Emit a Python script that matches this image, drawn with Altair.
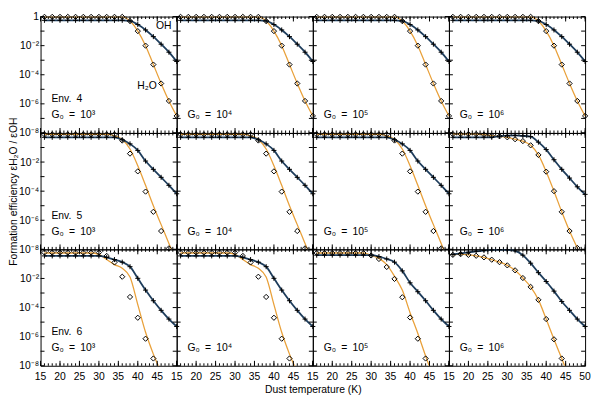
import altair as alt
import pandas as pd

# ---------------- data (log10 of formation efficiency) -------------
TEMPS = [16, 18, 20, 22, 24, 26, 28, 30, 32, 34, 36, 38, 40, 42, 44, 46, 48, 50]

ENV_LABELS = ["Env.\u20024", "Env.\u20025", "Env.\u20026"]
G0_LABELS = ["G\u2080\u2002=\u200210\u00b3", "G\u2080\u2002=\u200210\u2074",
             "G\u2080\u2002=\u200210\u2075", "G\u2080\u2002=\u200210\u2076"]

# Env. 4 (same for all G0)
E4_H2O = [-0.02, -0.02, -0.02, -0.02, -0.02, -0.02, -0.02, -0.02, -0.02, -0.02, -0.02,
          -0.31, -1.0, -2.0, -3.3, -4.6, -5.8, -6.83]
E4_OH = [-0.26, -0.26, -0.26, -0.26, -0.26, -0.26, -0.26, -0.26, -0.26, -0.26, -0.26,
         -0.3, -0.55, -0.92, -1.38, -1.9, -2.45, -3.09]

# Env. 5, G0 = 1e3 .. 1e5
E5_H2O_PTS = [-0.1, -0.1, -0.1, -0.1, -0.1, -0.1, -0.1, -0.1, -0.1, -0.1,
              -0.52, -1.42, -2.64, -4.03, -5.42, -6.74, -7.93, None]
E5_H2O_LINE = [-0.1, -0.1, -0.1, -0.1, -0.1, -0.1, -0.1, -0.1, -0.1, -0.2,
               -0.45, -1.1, -2.25, -3.6, -5.0, -6.3, -7.6, -8.9]
E5_OH = [-0.3, -0.3, -0.3, -0.3, -0.3, -0.3, -0.3, -0.3, -0.3, -0.3,
         -0.47, -0.75, -1.2, -1.93, -2.5, -3.05, -3.6, -4.18]
# Env. 5, G0 = 1e6
E5G6_H2O_PTS = [-0.08, -0.08, -0.08, -0.08, -0.12, -0.19, -0.23, -0.3, -0.43, -0.56,
                -0.85, -1.51, -2.66, -4.0, -5.42, -6.74, -7.9, None]
E5G6_H2O_LINE = [-0.08, -0.08, -0.08, -0.08, -0.12, -0.19, -0.23, -0.3, -0.43, -0.56,
                 -0.85, -1.51, -2.66, -4.0, -5.42, -6.74, -7.9, -9.0]
E5G6_OH = [-0.3, -0.3, -0.3, -0.3, -0.3, -0.3, -0.22, -0.18, -0.17, -0.2,
           -0.25, -0.63, -1.14, -1.84, -2.5, -3.1, -3.7, -4.22]

# Env. 6, G0 = 1e3 and 1e4
E6_H2O_PTS = [-0.22, -0.22, -0.22, -0.22, -0.22, -0.22, -0.22, -0.22, -0.45, -0.9,
              -1.88, -3.27, -4.7, -6.14, -7.5, None, None, None]
E6_H2O_LINE = [-0.25, -0.25, -0.25, -0.25, -0.25, -0.25, -0.25, -0.35, -0.7, -1.05,
               -1.3, -1.9, -3.8, -5.7, -7.2, -8.5, -10.0, -11.4]
E6_OH = [-0.45, -0.45, -0.45, -0.45, -0.45, -0.45, -0.45, -0.45, -0.55, -0.7,
         -0.88, -1.19, -1.99, -2.8, -3.53, -4.19, -4.79, -5.3]
# Env. 6, G0 = 1e5
E6G5_H2O_PTS = [-0.25, -0.25, -0.25, -0.25, -0.25, -0.25, -0.25, -0.42, -0.66, -1.21,
                -2.03, -3.29, -4.68, -6.14, -7.5, None, None, None]
E6G5_H2O_LINE = [-0.25, -0.25, -0.25, -0.25, -0.25, -0.25, -0.25, -0.4, -0.62, -1.05,
                 -1.85, -2.8, -4.35, -5.78, -7.33, -8.8, -10.3, -11.8]
E6G5_OH = [-0.4, -0.4, -0.4, -0.4, -0.4, -0.4, -0.4, -0.4, -0.49, -0.66,
           -0.88, -1.48, -2.3, -2.91, -3.53, -4.19, -4.79, -5.3]
# Env. 6, G0 = 1e6
E6G6_H2O_PTS = [-0.38, -0.33, -0.38, -0.44, -0.55, -0.71, -0.88, -1.1, -1.44, -1.97,
                -2.58, -3.47, -4.79, -6.18, -7.5, None, None, None]
E6G6_H2O_LINE = [-0.38, -0.33, -0.38, -0.44, -0.55, -0.71, -0.88, -1.1, -1.44, -1.97,
                 -2.58, -3.47, -4.79, -6.18, -7.5, -8.9, -10.5, -12.0]
E6G6_OH = [-0.35, -0.28, -0.2, -0.13, -0.08, -0.04, -0.02, -0.03, -0.1, -0.4,
           -0.95, -1.6, -2.21, -2.87, -3.58, -4.19, -4.79, -5.3]

PANELS = {
    (0, 0): (E4_H2O, E4_H2O, E4_OH),
    (0, 1): (E4_H2O, E4_H2O, E4_OH),
    (0, 2): (E4_H2O, E4_H2O, E4_OH),
    (0, 3): (E4_H2O, E4_H2O, E4_OH),
    (1, 0): (E5_H2O_LINE, E5_H2O_PTS, E5_OH),
    (1, 1): (E5_H2O_LINE, E5_H2O_PTS, E5_OH),
    (1, 2): (E5_H2O_LINE, E5_H2O_PTS, E5_OH),
    (1, 3): (E5G6_H2O_LINE, E5G6_H2O_PTS, E5G6_OH),
    (2, 0): (E6_H2O_LINE, E6_H2O_PTS, E6_OH),
    (2, 1): (E6_H2O_LINE, E6_H2O_PTS, E6_OH),
    (2, 2): (E6G5_H2O_LINE, E6G5_H2O_PTS, E6G5_OH),
    (2, 3): (E6G6_H2O_LINE, E6G6_H2O_PTS, E6G6_OH),
}

# axis tick positions / labels
X_MAJOR = [15, 20, 25, 30, 35, 40, 45, 50]
X_MINOR = list(range(15, 51))
Y_DECADES = [1e-8, 1e-7, 1e-6, 1e-5, 1e-4, 1e-3, 1e-2, 1e-1, 1]
Y_LABELED_ROW1 = [1e-8, 1e-6, 1e-4, 1e-2, 1]
Y_LABELED = [1e-8, 1e-6, 1e-4, 1e-2]

# ---------------- styling -------------
W, H = 138, 118
FONT = "Liberation Sans"
C_OH = "#1e3d5c"
C_H2O = "#e9a13b"
PLUS = "M-1,0L1,0M0,-1L0,1"
FS = 10.5

E = "round(log(datum.value)/LN10)"
Y_LAB = (f"{E} == 0 ? '1' : {E} == -2 ? '10\u207b\u00b2' : {E} == -4 ? '10\u207b\u2074' : "
         f"{E} == -6 ? '10\u207b\u2076' : {E} == -8 ? '10\u207b\u2078' : ''")

xs = alt.Scale(domain=[15, 50], nice=False, zero=False)
ys = alt.Scale(type="log", domain=[1e-8, 1], nice=False)

df_xmaj = pd.DataFrame({"v": X_MAJOR})
df_xmin = pd.DataFrame({"v": X_MINOR})
df_y = pd.DataFrame({"v": Y_DECADES})


def tick_layers():
    out = []
    for dfx, ln in ((df_xmaj, 5), (df_xmin, 2.5)):
        bx = alt.Chart(dfx).mark_rule(color="black", strokeWidth=1)
        out.append(bx.encode(x=alt.X("v:Q", scale=xs),
                             y=alt.value(H), y2=alt.value(H - ln)))
        out.append(bx.encode(x=alt.X("v:Q", scale=xs),
                             y=alt.value(0), y2=alt.value(ln)))
    by = alt.Chart(df_y).mark_rule(color="black", strokeWidth=1)
    out.append(by.encode(y=alt.Y("v:Q", scale=ys), x=alt.value(0), x2=alt.value(4)))
    out.append(by.encode(y=alt.Y("v:Q", scale=ys), x=alt.value(W), x2=alt.value(W - 4)))
    return out


def txt(s, x, y):
    return alt.Chart(pd.DataFrame({"t": [s]})).mark_text(
        align="left", baseline="middle", font=FONT, fontSize=FS, color="black").encode(
        text="t:N", x=alt.value(x), y=alt.value(y))


def make_panel(r, c):
    h2o_line, h2o_pts, oh = PANELS[(r, c)]
    df = pd.DataFrame({
        "T": TEMPS,
        "h2o_line": [10 ** v for v in h2o_line],
        "h2o_pts": [None if v is None else 10 ** v for v in h2o_pts],
        "oh": [10 ** v for v in oh],
    })

    x_kw = dict(labels=False, ticks=False, domain=False, grid=False)
    if r == 2 and c == 1:
        x_kw.update(title="Dust temperature (K)", titleX=W, titleAlign="center",
                    titleFontWeight="normal", titleFontSize=FS, titlePadding=19,
                    titleFont=FONT, titleColor="black")
    else:
        x_kw.update(title=None)

    if c == 0:
        y_kw = dict(values=(Y_LABELED_ROW1 if r == 0 else Y_LABELED), ticks=False, domain=False,
                    grid=False, labelFlush=False, labelOverlap=False, labelPadding=2,
                    labelExpr=Y_LAB, labelFontSize=FS, labelColor="black", labelFont=FONT)
    else:
        y_kw = dict(labels=False, ticks=False, domain=False, grid=False)
    if r == 1 and c == 0:
        y_kw.update(title="Formation efficiency \u03b5H\u2082O / \u03b5OH",
                    titleFontWeight="normal", titleFontSize=FS, titlePadding=0,
                    titleFont=FONT, titleColor="black")
    else:
        y_kw.update(title=None)

    base = alt.Chart(df)
    h2o_l = base.mark_line(color=C_H2O, strokeWidth=1.3, clip=True, interpolate="monotone").encode(
        x=alt.X("T:Q", scale=xs, axis=alt.Axis(**x_kw)),
        y=alt.Y("h2o_line:Q", scale=ys, axis=alt.Axis(**y_kw)))
    oh_l = base.mark_line(color=C_OH, strokeWidth=1.8, clip=True, interpolate="monotone").encode(
        x="T:Q", y="oh:Q")
    h2o_p = base.transform_filter("isValid(datum.h2o_pts)").mark_point(
        shape="diamond", filled=False, color="black", size=28, strokeWidth=1, opacity=1).encode(
        x="T:Q", y="h2o_pts:Q")
    oh_p = base.mark_point(shape=PLUS, filled=False, color="black", size=26, strokeWidth=1,
                           opacity=1).encode(x="T:Q", y="oh:Q")

    layers = [h2o_l, oh_l, h2o_p, oh_p] + tick_layers()

    if r == 2:
        xl = pd.DataFrame({"v": X_MAJOR if c == 3 else X_MAJOR[:-1]})
        layers.append(alt.Chart(xl).mark_text(font=FONT, fontSize=FS, color="black",
                                              baseline="middle", align="center").encode(
            x=alt.X("v:Q", scale=xs), y=alt.value(H + 11), text=alt.Text("v:Q", format="d")))

    layers.append(txt(G0_LABELS[c], 11, 100))
    if c == 0:
        layers.append(txt(ENV_LABELS[r], 11, 84))
    if r == 0 and c == 0:
        layers.append(txt("OH", 117, 10))
        layers.append(txt("H\u2082O", 98, 70))

    return alt.layer(*layers).properties(width=W, height=H)


panels = [make_panel(r, c) for r in range(3) for c in range(4)]

chart = alt.concat(*panels, columns=4, spacing=0, bounds="flush").properties(
    padding={"left": 0, "top": 0, "right": 0, "bottom": 0}
).configure(font=FONT).configure_view(stroke="black", strokeWidth=1)

chart.save("out.html", embed_options={"renderer": "svg", "actions": False})
